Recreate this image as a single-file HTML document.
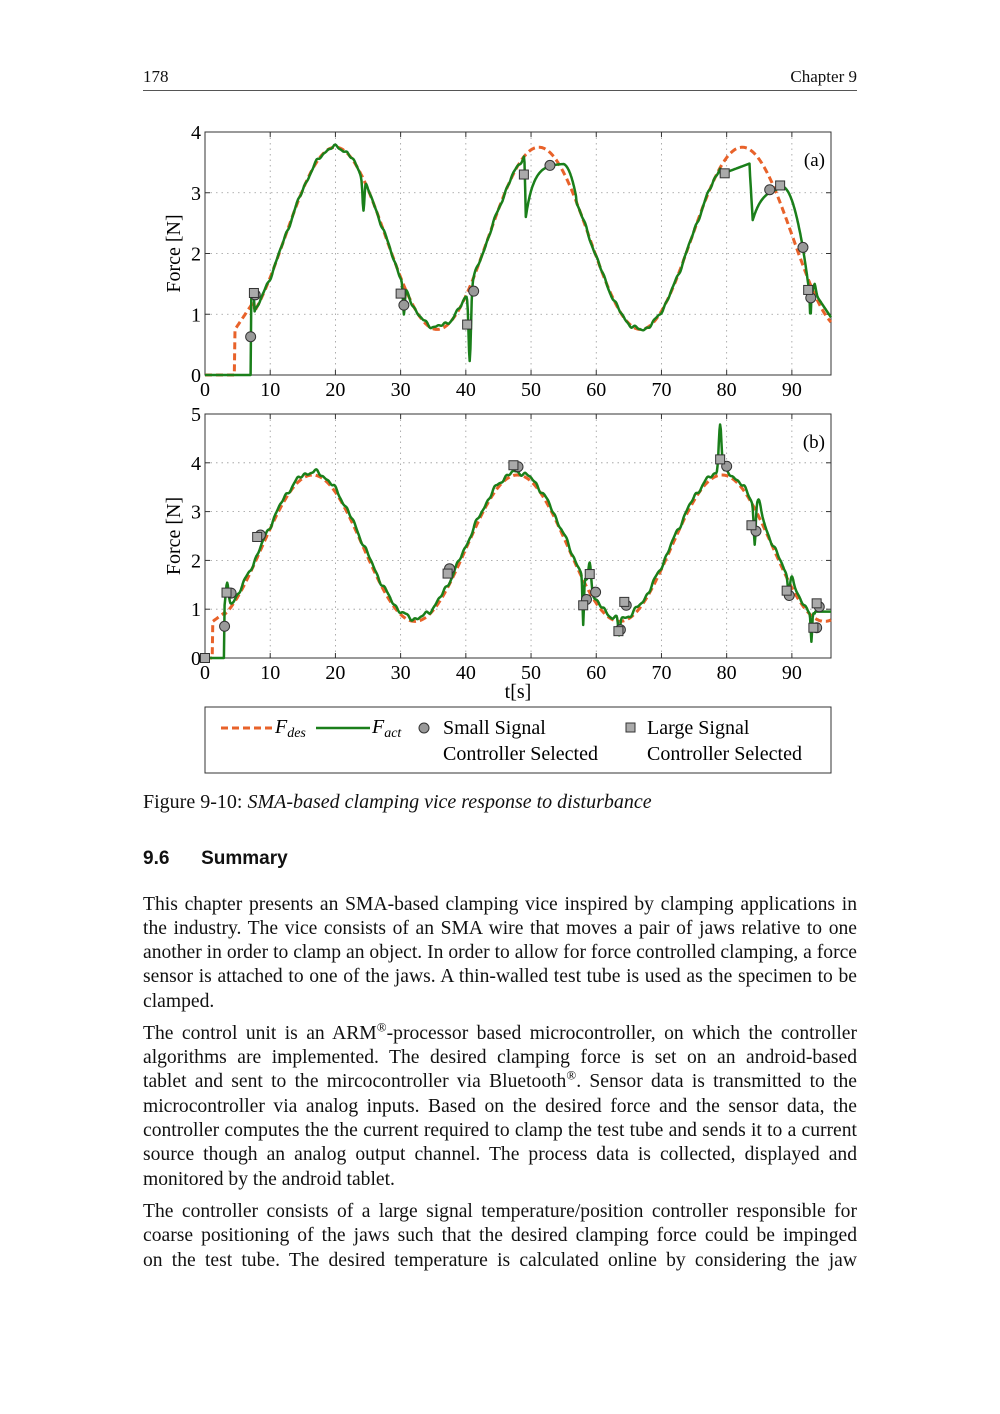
<!DOCTYPE html>
<html><head><meta charset="utf-8"><style>
body{margin:0;background:#fff;}
#pg{position:relative;width:1000px;height:1414px;font-family:"Liberation Serif",serif;color:#111;}
.t{position:absolute;font-size:20px;white-space:nowrap;}
.j{position:absolute;left:143px;width:714px;font-size:19.6px;text-align:justify;text-align-last:justify;white-space:nowrap;}
.jl{text-align-last:left;}
sup{line-height:0;font-size:13px;}
</style></head><body><div id="pg">
<div class="t" style="left:143px;top:67px;font-size:17px">178</div>
<div class="t" style="right:143px;top:67px;font-size:17px">Chapter 9</div>
<div style="position:absolute;left:143px;top:90px;width:714px;height:1px;background:#555"></div>

<svg id="sv" width="1000" height="800" style="position:absolute;left:0;top:0" font-family="Liberation Serif, serif"></svg>

<div class="t" style="left:143px;top:791px;font-size:20px">Figure 9-10: <i>SMA-based clamping vice response to disturbance</i></div>
<div class="t" style="left:143px;top:848px;font-family:'Liberation Sans',sans-serif;font-weight:bold;font-size:19px">9.6&nbsp;&nbsp;&nbsp;&nbsp;&nbsp;&nbsp;Summary</div>

<div class="j" style="top:894px">This chapter presents an SMA-based clamping vice inspired by clamping applications in</div>
<div class="j" style="top:918px">the industry. The vice consists of an SMA wire that moves a pair of jaws relative to one</div>
<div class="j" style="top:942px">another in order to clamp an object. In order to allow for force controlled clamping, a force</div>
<div class="j" style="top:966px">sensor is attached to one of the jaws. A thin-walled test tube is used as the specimen to be</div>
<div class="j jl" style="top:991px">clamped.</div>

<div class="j" style="top:1023px">The control unit is an ARM<sup>®</sup>-processor based microcontroller, on which the controller</div>
<div class="j" style="top:1047px">algorithms are implemented. The desired clamping force is set on an android-based</div>
<div class="j" style="top:1071px">tablet and sent to the mircocontroller via Bluetooth<sup>®</sup>. Sensor data is transmitted to the</div>
<div class="j" style="top:1096px">microcontroller via analog inputs. Based on the desired force and the sensor data, the</div>
<div class="j" style="top:1120px">controller computes the the current required to clamp the test tube and sends it to a current</div>
<div class="j" style="top:1144px">source though an analog output channel. The process data is collected, displayed and</div>
<div class="j jl" style="top:1169px">monitored by the android tablet.</div>

<div class="j" style="top:1201px">The controller consists of a large signal temperature/position controller responsible for</div>
<div class="j" style="top:1225px">coarse positioning of the jaws such that the desired clamping force could be impinged</div>
<div class="j" style="top:1250px">on the test tube. The desired temperature is calculated online by considering the jaw</div>
</div>
<script>
var sv=document.getElementById('sv');var h='';
var X0=205,X1=831,SX=(X1-X0)/96;
function px(t){return X0+t*SX;}
function panel(top,bot,ymax,lab){
  var sy=(bot-top)/ymax;
  function py(v){return bot-v*sy;}
  for(var i=1;i<=9;i++){var x=px(i*10);h+='<line x1="'+x+'" y1="'+top+'" x2="'+x+'" y2="'+bot+'" stroke="#999" stroke-width="0.8" stroke-dasharray="1.5,4"/>';}
  for(var k=1;k<ymax;k++){var y=py(k);h+='<line x1="'+X0+'" y1="'+y+'" x2="'+X1+'" y2="'+y+'" stroke="#999" stroke-width="0.8" stroke-dasharray="1.5,4"/>';}
  h+='<rect x="'+X0+'" y="'+top+'" width="'+(X1-X0)+'" height="'+(bot-top)+'" fill="none" stroke="#333" stroke-width="1"/>';
  for(var i=0;i<=9;i++){var x=px(i*10);h+='<line x1="'+x+'" y1="'+bot+'" x2="'+x+'" y2="'+(bot-5)+'" stroke="#333"/><line x1="'+x+'" y1="'+top+'" x2="'+x+'" y2="'+(top+5)+'" stroke="#333"/>';
    h+='<text x="'+x+'" y="'+(bot+21)+'" font-size="20" text-anchor="middle">'+(i*10)+'</text>';}
  for(var k=0;k<=ymax;k++){var y=py(k);h+='<line x1="'+X0+'" y1="'+y+'" x2="'+(X0+5)+'" y2="'+y+'" stroke="#333"/><line x1="'+X1+'" y1="'+y+'" x2="'+(X1-5)+'" y2="'+y+'" stroke="#333"/>';
    h+='<text x="'+(X0-4)+'" y="'+(y+7)+'" font-size="20" text-anchor="end">'+k+'</text>';}
  h+='<text x="825" y="'+(top+34)+'" font-size="19" text-anchor="end">'+lab+'</text>';
  h+='<text transform="translate(180,'+((top+bot)/2)+') rotate(-90)" font-size="20" text-anchor="middle">Force [N]</text>';
  return py;
}
function sig(t,t0,P){return 2.25-1.5*Math.cos(2*Math.PI*(t-t0)/P);}
function path(fn,py,col,w,dash){var d='';for(var t=0;t<=96;t+=0.1){var v=fn(t);d+=(d?'L':'M')+px(t).toFixed(1)+','+py(v).toFixed(1);}
  h+='<path d="'+d+'" fill="none" stroke="'+col+'" stroke-width="'+w+'"'+(dash?' stroke-dasharray="'+dash+'"':'')+' stroke-linejoin="round"/>';}
function bump(t,c,w,a){var x=(t-c)/w;return a*Math.exp(-x*x);}
function noise(t){return 0.02*Math.sin(t*2.3)+0.015*Math.sin(t*4.1+1)+0.01*Math.sin(t*6.7);}
var pa=panel(132,375,4,'(a)');
function da(t){return t<4.6?0:(t<7.5?0.75+(t-4.6)*0.16:sig(t,4.4,31.2));}
function aa(t){
  if(t<7)return 0; if(t<7.5)return 1.3;
  var v=da(t)+noise(t);
  v+=bump(t,24.3,0.2,-0.5)+bump(t,30.5,0.2,-0.5)+bump(t,40.6,0.25,-1.2)+bump(t,36,2,0.05);
  if(t>=49&&t<57){var r=t<49.2?3.5-(t-49)*4.5:Math.min(3.48,2.6+0.88*(1-Math.exp(-(t-49.2)/1.2)));v=t<55?r:r+(da(t)+0.05-r)*(t-55)/2;}
  if(t>=79&&t<92.6){var r;if(t<83.5)r=Math.min(da(t)+noise(t),3.3+0.04*(t-79));else if(t<84)r=3.45-(t-83.5)*1.8;else if(t<88.5)r=2.55+0.55*(1-Math.exp(-(t-84)/1.5));else r=3.1-0.1*(t-88.5)*(t-88.5);v=r;}
  if(t>=92.6){var b=t<93.5?1.35:1.35-(t-93.5)*0.16;v=b+bump(t,92.85,0.12,-0.4)+bump(t,93.5,0.25,0.15);}
  return v;}
path(da,pa,'#e8622a',3,'7,4');
path(aa,pa,'#1a7f1a',2.5);
var pb=panel(414,658,5,'(b)');
function db(t){return t<1.2?0:(t<3?0.75+(t-1.2)*0.1:sig(t,0.8,31.4));}
function ab(t){
  if(t<3)return 0;
  var v=db(t)+0.06+1.5*noise(t);
  v+=bump(t,3.4,0.3,0.5)+bump(t,58,0.15,-1)+bump(t,59,0.3,0.6)+bump(t,63.5,0.2,-0.35)+bump(t,79,0.3,1.0)+bump(t,84.3,0.2,-0.8)+bump(t,85,0.4,0.3)+bump(t,89.5,0.2,-0.3)+bump(t,90,0.3,0.2)+bump(t,93,0.15,-0.6);
  if(t>93.5)v=0.95;
  return v;}
path(db,pb,'#e8622a',3,'7,4');
path(ab,pb,'#1a7f1a',2.5);
function circ(t,v,py){h+='<circle cx="'+px(t)+'" cy="'+py(v)+'" r="5" fill="#999" stroke="#333" stroke-width="1"/>';}
function sq(t,v,py){h+='<rect x="'+(px(t)-4.5)+'" y="'+(py(v)-4.5)+'" width="9" height="9" fill="#aaa" stroke="#333" stroke-width="1"/>';}
[[7,0.63],[7.7,1.32],[30.5,1.15],[41.2,1.38],[52.9,3.45],[86.6,3.05],[91.7,2.1],[92.9,1.27]].forEach(function(a){circ(a[0],a[1],pa);});
[[7.5,1.35],[30,1.34],[40.2,0.83],[48.9,3.3],[79.7,3.32],[88.2,3.12],[92.5,1.4]].forEach(function(a){sq(a[0],a[1],pa);});
[[3,0.65],[4,1.33],[8.5,2.52],[37.5,1.83],[48,3.92],[58.5,1.2],[59.9,1.35],[63.7,0.58],[64.6,1.08],[80,3.93],[84.5,2.6],[89.6,1.28],[93.8,0.62],[94.2,1.05]].forEach(function(a){circ(a[0],a[1],pb);});
[[0,0],[3.3,1.34],[8,2.48],[37.2,1.73],[47.3,3.95],[58,1.08],[59,1.72],[63.4,0.55],[64.3,1.15],[79,4.07],[83.8,2.72],[89.2,1.38],[93.3,0.62],[93.8,1.12]].forEach(function(a){sq(a[0],a[1],pb);});
h+='<text x="518" y="698" font-size="20" text-anchor="middle">t[s]</text>';
h+='<rect x="205" y="707" width="626" height="66" fill="#fff" stroke="#333" stroke-width="1"/>';
h+='<line x1="221" y1="728" x2="273" y2="728" stroke="#e8622a" stroke-width="3" stroke-dasharray="7,4"/>';
h+='<text x="275" y="733" font-size="20" font-style="italic">F<tspan font-size="14" dy="4">des</tspan></text>';
h+='<line x1="316" y1="728" x2="370" y2="728" stroke="#1a7f1a" stroke-width="2.5"/>';
h+='<text x="372" y="733" font-size="20" font-style="italic">F<tspan font-size="14" dy="4">act</tspan></text>';
h+='<circle cx="424" cy="728" r="5" fill="#999" stroke="#333"/>';
h+='<text x="443" y="734" font-size="20">Small Signal</text><text x="443" y="760" font-size="20">Controller Selected</text>';
h+='<rect x="626" y="723" width="9" height="9" fill="#aaa" stroke="#333"/>';
h+='<text x="647" y="734" font-size="20">Large Signal</text><text x="647" y="760" font-size="20">Controller Selected</text>';
sv.innerHTML=h;
</script>
</body></html>
